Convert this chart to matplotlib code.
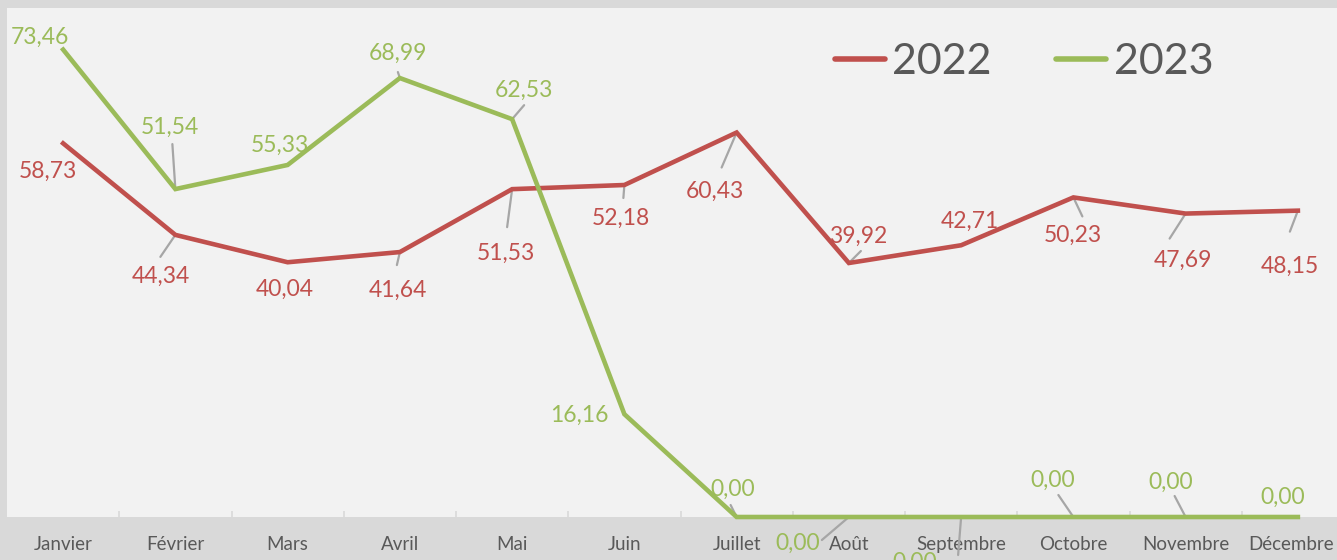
import matplotlib
matplotlib.use("Agg")
import matplotlib.pyplot as plt
import matplotlib.transforms as mtransforms
import numpy as np

plt.rcParams['font.family'] = ['Lato', 'DejaVu Sans']

mois = ['Janvier', 'Février', 'Mars', 'Avril', 'Mai', 'Juin', 'Juillet',
        'Août', 'Septembre', 'Octobre', 'Novembre', 'Décembre']
v2022 = [58.73, 44.34, 40.04, 41.64, 51.53, 52.18, 60.43, 39.92, 42.71, 50.23, 47.69, 48.15]
v2023 = [73.46, 51.54, 55.33, 68.99, 62.53, 16.16, 0, 0, 0, 0, 0, 0]

ROUGE = '#c0504d'
VERT = '#9bbb59'
GRIS = '#a6a6a6'

# position du texte (dx, dy en pixels) et bout du trait de rappel (ou None)
lab22 = [(-15, -28, None), (-15, -41, (-15, -22)), (-3, -27, None), (-2, -38, (-3, -13)),
         (-6, -64, (-5, -38)), (-3, -33, (-1, -13)), (-22, -59, (-15, -35)),
         (9, 27, (12, 12)), (9, 24, None), (-1, -38, (9, -19)),
         (-3, -47, (-16, -25)), (-8, -56, (-8, -21))]
lab23 = [(-23, 12, None), (-5, 62, (-3, 45)), (-8, 20, None), (-2, 25, (-2, 6)),
         (12, 29, (12, 14)), (-45, -1, None), (-4, 28, (-6, 12)),
         (-51, -26, (-27, -23)), (-46, -45, (-3, -38)), (-21, 37, (-15, 22)),
         (-15, 35, (-11, 21)), (-15, 20, None)]

fig = plt.figure(figsize=(13.37, 5.6), dpi=100, facecolor='#d9d9d9')
ax = fig.add_axes([7/1337, 43/560, 1347/1337, 509/560])
ax.set_facecolor('#f2f2f2')

x = np.arange(len(mois))
ax.plot(x, v2022, color=ROUGE, lw=3.3, label='2022', solid_joinstyle='miter', clip_on=False, zorder=3)
ax.plot(x, v2023, color=VERT, lw=3.3, label='2023', solid_joinstyle='miter', clip_on=False, zorder=4)

def etiquettes(vals, labs, col):
    for i, v in enumerate(vals):
        dx, dy, lead = labs[i]
        if lead is not None:
            ax.annotate('', xy=(i, v), xytext=lead, textcoords='offset pixels',
                        arrowprops=dict(arrowstyle='-', color=GRIS, lw=1.6,
                                        shrinkA=0, shrinkB=0),
                        annotation_clip=False, zorder=2)
        ax.annotate(f'{v:.2f}'.replace('.', ','), xy=(i, v), xytext=(dx, dy),
                    textcoords='offset pixels', ha='center', va='center',
                    color=col, fontsize=16.5, annotation_clip=False, zorder=5)

etiquettes(v2022, lab22, ROUGE)
etiquettes(v2023, lab23, VERT)

ax.set_xlim(-0.5, 11.5)
ax.set_ylim(0, 80)
ax.set_yticks([])
ax.set_xticks(x)
ax.set_xticklabels(mois, fontsize=13.5, color='#595959')
ax.tick_params(axis='x', which='major', length=0, pad=14)
# Décembre un peu décalé pour rester dans l'image
dec = ax.get_xticklabels()[-1]
dec.set_transform(dec.get_transform() + mtransforms.ScaledTranslation(-0.07, 0, fig.dpi_scale_trans))
ax.set_xticks(x[:-1] + 0.5, minor=True)
ax.tick_params(axis='x', which='minor', direction='in', length=4, width=1.2, color='#d9d9d9')
for s in ax.spines.values():
    s.set_visible(False)

leg = ax.legend(loc='center left', bbox_to_anchor=((835 - 7) / 1347, (517 - 62) / 509),
                ncol=2, frameon=False, borderpad=0, borderaxespad=0,
                fontsize=31, handlelength=1.15, handletextpad=0.18, columnspacing=1.5,
                labelcolor='#595959')
for l in leg.get_lines():
    l.set_linewidth(4)
    l.set_solid_capstyle('round')

fig.savefig('out.png', dpi=100, facecolor=fig.get_facecolor())
